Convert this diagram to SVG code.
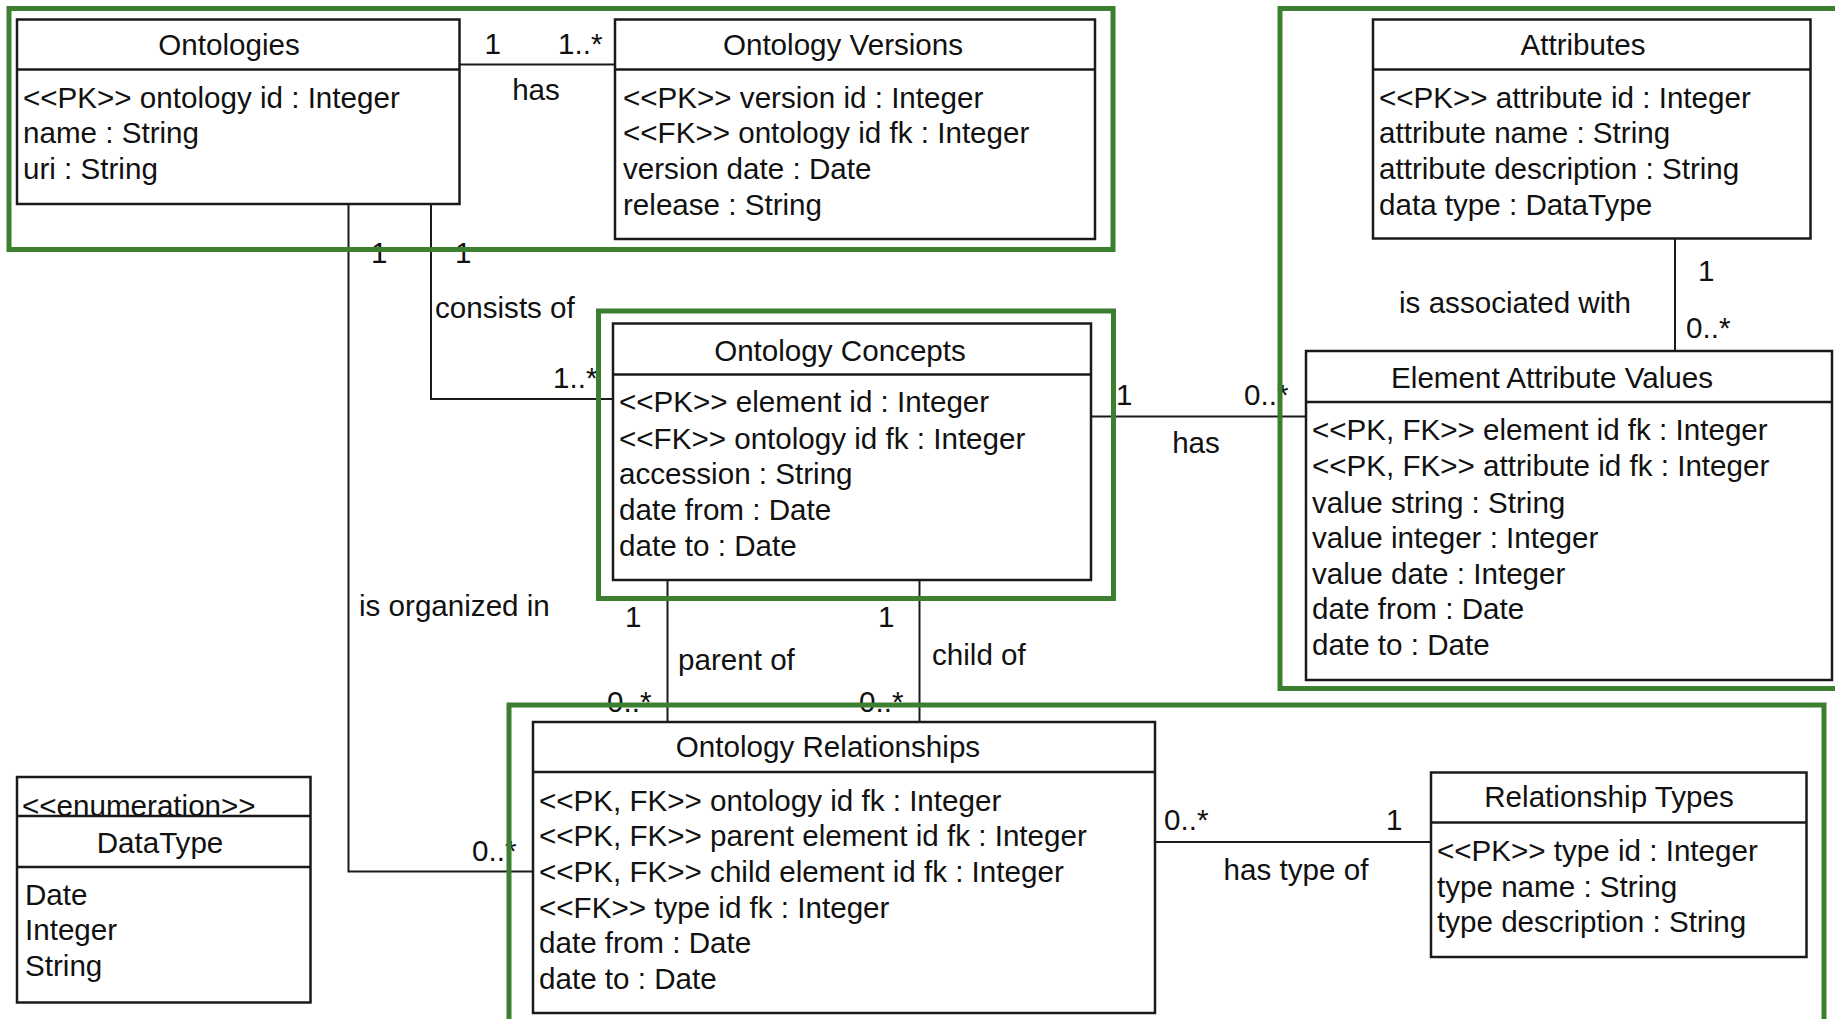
<svg xmlns="http://www.w3.org/2000/svg" width="1835" height="1019" viewBox="0 0 1835 1019">
<style>
.bg{fill:#fff}
.box{fill:#fff;stroke:#1a1a1a;stroke-width:2.5}
.sep{stroke:#1a1a1a;stroke-width:2.5}
.t{font-family:"Liberation Sans",Arial,Helvetica,sans-serif;font-size:29.6px;fill:#111}
.c{text-anchor:middle}
.conn{fill:none;stroke:#1a1a1a;stroke-width:2}
.frame{fill:none;stroke:#3d7f31;stroke-width:5}
</style>
<rect class="bg" x="0" y="0" width="1835" height="1019"/>

<g id="connectors">
  <line class="conn" x1="459.5" y1="64.5" x2="615" y2="64.5"/>
  <polyline class="conn" points="431,204 431,399 613,399"/>
  <polyline class="conn" points="348.5,204 348.5,871.5 533,871.5"/>
  <line class="conn" x1="1091" y1="416.5" x2="1306" y2="416.5"/>
  <line class="conn" x1="1675" y1="238.5" x2="1675" y2="351"/>
  <line class="conn" x1="667.5" y1="580" x2="667.5" y2="722"/>
  <line class="conn" x1="919.5" y1="580" x2="919.5" y2="722"/>
  <line class="conn" x1="1155" y1="842" x2="1431" y2="842"/>
  <g class="t">
    <text x="484.5" y="53.5">1</text>
    <text x="558" y="53.5">1..*</text>
    <text class="c" x="536" y="100">has</text>
    <text x="371" y="263">1</text>
    <text x="455" y="263">1</text>
    <text x="435" y="318">consists of</text>
    <text x="553" y="388">1..*</text>
    <text x="359" y="616">is organized in</text>
    <text x="472" y="861">0..*</text>
    <text x="1116" y="405">1</text>
    <text x="1244" y="405">0..*</text>
    <text class="c" x="1196" y="453">has</text>
    <text class="c" x="1515" y="313">is associated with</text>
    <text x="1698" y="281">1</text>
    <text x="1686" y="338">0..*</text>
    <text x="625" y="627">1</text>
    <text x="607" y="712">0..*</text>
    <text x="678" y="670">parent of</text>
    <text x="878" y="627">1</text>
    <text x="859" y="712">0..*</text>
    <text x="932" y="665">child of</text>
    <text x="1164" y="830">0..*</text>
    <text x="1386" y="830">1</text>
    <text class="c" x="1296" y="880">has type of</text>
  </g>
</g>

<g id="ontologies">
  <rect class="box" x="17" y="19.5" width="442.5" height="184.5"/>
  <line class="sep" x1="17" y1="69.5" x2="459.5" y2="69.5"/>
  <text class="t c" x="229" y="55">Ontologies</text>
  <text class="t" x="23" y="107.5">&lt;&lt;PK&gt;&gt; ontology id : Integer</text>
  <text class="t" x="23" y="143">name : String</text>
  <text class="t" x="23" y="179">uri : String</text>
</g>

<g id="ontology-versions">
  <rect class="box" x="615" y="19.5" width="480" height="219.5"/>
  <line class="sep" x1="615" y1="69.5" x2="1095" y2="69.5"/>
  <text class="t c" x="843" y="55">Ontology Versions</text>
  <text class="t" x="623" y="107.5">&lt;&lt;PK&gt;&gt; version id : Integer</text>
  <text class="t" x="623" y="143">&lt;&lt;FK&gt;&gt; ontology id fk : Integer</text>
  <text class="t" x="623" y="179">version date : Date</text>
  <text class="t" x="623" y="215">release : String</text>
</g>

<g id="attributes">
  <rect class="box" x="1373" y="19.5" width="437.5" height="219"/>
  <line class="sep" x1="1373" y1="69.5" x2="1810.5" y2="69.5"/>
  <text class="t c" x="1583" y="55">Attributes</text>
  <text class="t" x="1379" y="107.5">&lt;&lt;PK&gt;&gt; attribute id : Integer</text>
  <text class="t" x="1379" y="143">attribute name : String</text>
  <text class="t" x="1379" y="179">attribute description : String</text>
  <text class="t" x="1379" y="214.5">data type : DataType</text>
</g>

<g id="ontology-concepts">
  <rect class="box" x="613" y="323.5" width="478" height="256.5"/>
  <line class="sep" x1="613" y1="374.5" x2="1091" y2="374.5"/>
  <text class="t c" x="840" y="360.5">Ontology Concepts</text>
  <text class="t" x="619" y="412">&lt;&lt;PK&gt;&gt; element id : Integer</text>
  <text class="t" x="619" y="448.5">&lt;&lt;FK&gt;&gt; ontology id fk : Integer</text>
  <text class="t" x="619" y="484">accession : String</text>
  <text class="t" x="619" y="519.5">date from : Date</text>
  <text class="t" x="619" y="555.5">date to : Date</text>
</g>

<g id="element-attribute-values">
  <rect class="box" x="1306" y="351" width="526" height="329"/>
  <line class="sep" x1="1306" y1="402" x2="1832" y2="402"/>
  <text class="t c" x="1552" y="387.5">Element Attribute Values</text>
  <text class="t" x="1312" y="439.5">&lt;&lt;PK, FK&gt;&gt; element id fk : Integer</text>
  <text class="t" x="1312" y="476">&lt;&lt;PK, FK&gt;&gt; attribute id fk : Integer</text>
  <text class="t" x="1312" y="512.5">value string : String</text>
  <text class="t" x="1312" y="548">value integer : Integer</text>
  <text class="t" x="1312" y="583.5">value date : Integer</text>
  <text class="t" x="1312" y="619">date from : Date</text>
  <text class="t" x="1312" y="654.5">date to : Date</text>
</g>

<g id="ontology-relationships">
  <rect class="box" x="533" y="722" width="622" height="291"/>
  <line class="sep" x1="533" y1="772" x2="1155" y2="772"/>
  <text class="t c" x="828" y="757">Ontology Relationships</text>
  <text class="t" x="539" y="811">&lt;&lt;PK, FK&gt;&gt; ontology id fk : Integer</text>
  <text class="t" x="539" y="846">&lt;&lt;PK, FK&gt;&gt; parent element id fk : Integer</text>
  <text class="t" x="539" y="882">&lt;&lt;PK, FK&gt;&gt; child element id fk : Integer</text>
  <text class="t" x="539" y="918">&lt;&lt;FK&gt;&gt; type id fk : Integer</text>
  <text class="t" x="539" y="953">date from : Date</text>
  <text class="t" x="539" y="989">date to : Date</text>
</g>

<g id="relationship-types">
  <rect class="box" x="1431" y="772.5" width="375.5" height="184.5"/>
  <line class="sep" x1="1431" y1="822.5" x2="1806.5" y2="822.5"/>
  <text class="t c" x="1609" y="807">Relationship Types</text>
  <text class="t" x="1437" y="861">&lt;&lt;PK&gt;&gt; type id : Integer</text>
  <text class="t" x="1437" y="896.5">type name : String</text>
  <text class="t" x="1437" y="932">type description : String</text>
</g>

<g id="datatype">
  <rect class="box" x="17" y="777" width="293.5" height="225.5"/>
  <text class="t" x="22" y="816">&lt;&lt;enumeration&gt;&gt;</text>
  <line class="sep" x1="17" y1="816" x2="310.5" y2="816"/>
  <line class="sep" x1="17" y1="867" x2="310.5" y2="867"/>
  <text class="t c" x="160" y="853">DataType</text>
  <text class="t" x="25" y="904.5">Date</text>
  <text class="t" x="25" y="940">Integer</text>
  <text class="t" x="25" y="975.5">String</text>
</g>

<g id="highlights">
  <rect class="frame" x="9" y="8.5" width="1104" height="241"/>
  <rect class="frame" x="1280" y="8.5" width="570" height="680"/>
  <rect class="frame" x="598.5" y="311" width="515" height="287.5"/>
  <rect class="frame" x="509" y="705" width="1315" height="330"/>
</g>
</svg>
